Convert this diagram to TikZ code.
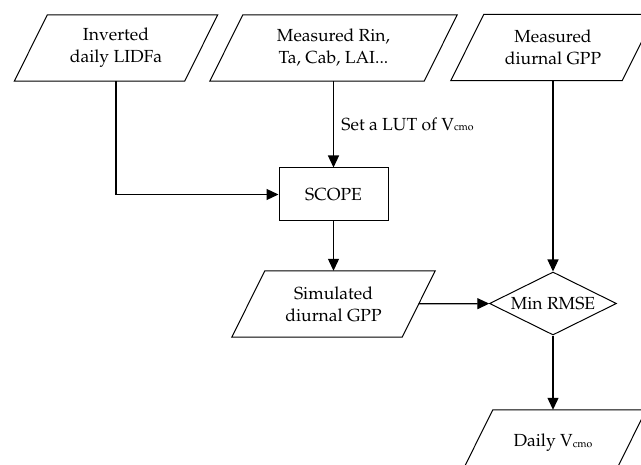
\documentclass[tikz,border=0pt]{standalone}
\usepackage[T1]{fontenc}
\usepackage{tikz}
\usetikzlibrary{shapes.geometric,arrows.meta}
\renewcommand{\rmdefault}{ppl}
% V with the small "cmo" index set on the line
\newcommand{\vcmo}{V\raisebox{-0.5pt}{\fontsize{10.5}{10.5}\selectfont cmo}}

\begin{document}
\begin{tikzpicture}[x=1pt, y=-1pt,
  font=\fontsize{17.5}{22}\selectfont,
  data/.style={rectangle, minimum height=66pt, inner sep=0pt, align=center},
  process/.style={draw, rectangle, minimum width=109pt, minimum height=53pt, line width=1pt},
  decision/.style={draw, diamond, aspect=2, minimum width=127pt, minimum height=63pt, inner sep=0pt, line width=1pt},
  flow/.style={-{Triangle[length=12pt,width=11pt]}, line width=1.2pt}]
  \useasboundingbox (0,0) rectangle (641,465);
  \clip (0,0) rectangle (641,465);

  % inputs
  \node[data, minimum width=170pt] (lidf) at (116,48) {Inverted\\daily LIDFa};
  \node[data, minimum width=214pt] (meas) at (333.5,48) {Measured Rin,\\Ta, Cab, LAI...};
  \node[data, minimum width=171pt] (gppobs) at (553,47.5) {Measured\\diurnal GPP};

  % model run and fitting
  \node[process] (scope) at (333.5,194.5) {SCOPE};
  \node[data, minimum width=170pt] (gppsim) at (333.5,304) {Simulated\\diurnal GPP};
  \node[decision] (rmse) at (553,303.5) {Min RMSE};
  \node[data, minimum width=153pt] (daily) at (553,443) {Daily \vcmo};

  % slanted outlines of the data boxes
  \foreach \n in {lidf,meas,gppobs,gppsim,daily}
    \draw[line width=1pt] ([xshift=-16.5pt]\n.south west) -- ([xshift=16.5pt]\n.north west)
      -- ([xshift=16.5pt]\n.north east) -- ([xshift=-16.5pt]\n.south east) -- cycle;

  \draw[flow] (lidf.south) |- (scope.west);
  \draw[flow] (meas.south) -- node[right=4pt] {Set a LUT of \vcmo} (scope.north);
  \draw[flow] (scope) -- (gppsim);
  \draw[flow] (gppsim) -- (rmse);
  \draw[flow] (gppobs) -- (rmse);
  \draw[flow] (rmse) -- (daily);
\end{tikzpicture}
\end{document}
